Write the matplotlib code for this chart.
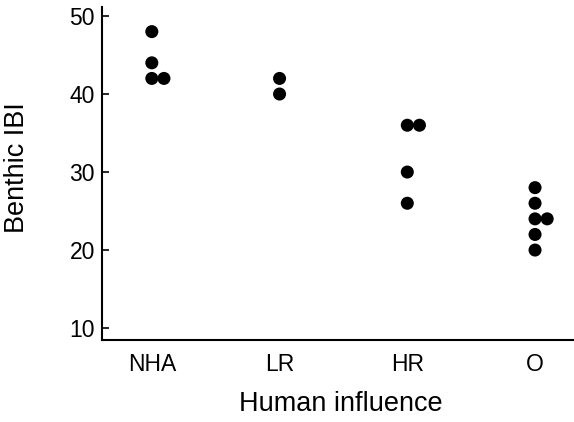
import numpy as np
import matplotlib.pyplot as plt

plt.rcParams['font.family'] = ['Liberation Sans', 'DejaVu Sans']

groups = ['NHA', 'LR', 'HR', 'O']
nha = [48, 44, 42, 42]
lr = [42, 40]
hr = [36, 36, 30, 26]
o = [28, 26, 24, 24, 22, 20]
values = [nha, lr, hr, o]

fig = plt.figure(figsize=(5.74, 4.22), dpi=100)
ax = fig.add_axes([0.1777, 0.1943, 0.8223, 0.789])

# equal values sit side by side, next one to the right
step = 0.095
for i, vals in enumerate(values):
    seen = {}
    xs = []
    for v in vals:
        k = seen.get(v, 0)
        xs.append(i + k * step)
        seen[v] = k + 1
    ax.scatter(xs, vals, s=88, c='black', edgecolors='none', zorder=3)

ax.set_xlim(-0.39, 3.305)
ax.set_ylim(8.47, 51.15)
ax.set_xticks(range(len(groups)))
ax.set_xticklabels(groups)
ax.set_yticks([10, 20, 30, 40, 50])

ax.spines['top'].set_visible(False)
ax.spines['right'].set_visible(False)
ax.spines['left'].set_linewidth(1.5)
ax.spines['bottom'].set_linewidth(1.5)
ax.tick_params(axis='y', direction='in', length=5, width=1.2, pad=5, labelsize=16.5)
ax.tick_params(axis='x', length=0, pad=9, labelsize=16.5)

ax.set_xlabel('Human influence', fontsize=19.5)
ax.set_ylabel('Benthic IBI', fontsize=19.5)
ax.xaxis.set_label_coords(0.507, -0.153)
ax.yaxis.set_label_coords(-0.152, 0.518)

fig.savefig('out.png', dpi=100)
